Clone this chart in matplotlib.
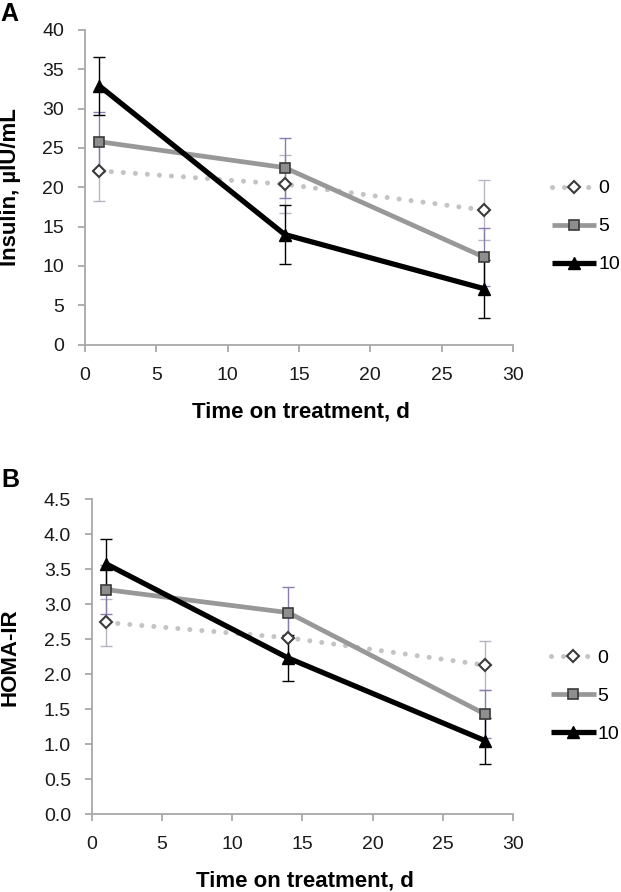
import numpy as np
import matplotlib
matplotlib.use("Agg")
import matplotlib.pyplot as plt

plt.rcParams['font.family'] = ['Liberation Sans', 'DejaVu Sans']

# time points (days) and dose groups
days = [1, 14, 28]
doses = ['0', '5', '10']

# panel A: insulin, uIU/mL (mean and error)
insulin_0 = [22.1, 20.4, 17.1]
insulin_0_err = [3.8, 3.7, 3.8]
insulin_5 = [25.8, 22.5, 11.1]
insulin_5_err = [3.8, 3.8, 3.7]
insulin_10 = [32.9, 14.0, 7.1]
insulin_10_err = [3.7, 3.7, 3.7]

# panel B: HOMA-IR (mean and error)
homa_0 = [2.74, 2.52, 2.13]
homa_0_err = [0.34, 0.34, 0.35]
homa_5 = [3.21, 2.88, 1.43]
homa_5_err = [0.35, 0.36, 0.34]
homa_10 = [3.58, 2.23, 1.05]
homa_10_err = [0.35, 0.33, 0.33]

axis_col = '#a8a8a8'

styles = [
    dict(color='#c4c4c4', lw=3.6, ls=(0, (0.01, 2.4)), dash_capstyle='round',
         marker='D', ms=6.5, mfc='white', mec='#3a3a3a', mew=1.5, ecol='#b8b4c4'),
    dict(color='#989898', lw=3.4, ls='-', dash_capstyle='butt',
         marker='s', ms=7, mfc='#8e8e8e', mec='#3a3a3a', mew=1.2, ecol='#8a7cae'),
    dict(color='black', lw=3.8, ls='-', dash_capstyle='butt',
         marker='^', ms=8.5, mfc='black', mec='black', mew=1, ecol='black'),
]


def draw_panel(ax, series, errs, ylim, ystep, yfmt, ylabel, ylabel_x):
    for vals, err, lab, st in zip(series, errs, doses, styles):
        ax.errorbar(days, vals, yerr=err, fmt='none', ecolor=st['ecol'],
                    elinewidth=1.0, capsize=4, capthick=1.0, zorder=2)
        ax.plot(days, vals, color=st['color'], lw=st['lw'], ls=st['ls'],
                dash_capstyle=st['dash_capstyle'], solid_capstyle='butt',
                marker=st['marker'], ms=st['ms'], mfc=st['mfc'],
                mec=st['mec'], mew=st['mew'], label=lab, zorder=3)
    ax.set_xlim(0, 30)
    ax.set_ylim(*ylim)
    ax.set_xticks(np.arange(0, 31, 5))
    ax.set_yticks(np.arange(ylim[0], ylim[1] + ystep / 2, ystep))
    ax.yaxis.set_major_formatter(plt.FormatStrFormatter(yfmt))
    for s in ['top', 'right']:
        ax.spines[s].set_visible(False)
    for s in ['left', 'bottom']:
        ax.spines[s].set_color(axis_col)
        ax.spines[s].set_linewidth(1.3)
    ax.tick_params(axis='both', colors=axis_col, labelcolor='#1a1a1a',
                   length=5, width=1.3, labelsize=14, direction='out')
    ax.tick_params(axis='x', pad=11)
    ax.tick_params(axis='y', pad=10)
    ax.set_xlabel('Time on treatment, d', fontsize=16, fontweight='bold',
                  va='center')
    ax.xaxis.set_label_coords(0.505, -0.214)
    ax.set_ylabel(ylabel, fontsize=16, fontweight='bold', va='center')
    ax.yaxis.set_label_coords(ylabel_x, 0.5)
    leg = ax.legend(loc='center left', bbox_to_anchor=(1.09, 0.375),
                    frameon=False, fontsize=14, handlelength=2.3,
                    handletextpad=0.1, labelspacing=1.05, borderpad=0,
                    borderaxespad=0, numpoints=1)
    return leg


fig = plt.figure(figsize=(6.21, 8.92), dpi=100)
axA = fig.add_axes([0.1369, 0.6136, 0.6892, 0.3528])
axB = fig.add_axes([0.1477, 0.0874, 0.6784, 0.3528])

draw_panel(axA, [insulin_0, insulin_5, insulin_10],
           [insulin_0_err, insulin_5_err, insulin_10_err],
           (0, 40), 5, '%d', 'Insulin, µIU/mL', (10 - 85) / 428)
draw_panel(axB, [homa_0, homa_5, homa_10],
           [homa_0_err, homa_5_err, homa_10_err],
           (0, 4.5), 0.5, '%.1f', 'HOMA-IR', (10 - 91.7) / 421.3)

fig.text(9 / 621, 1 - 14 / 892, 'A', fontsize=18, fontweight='bold',
         ha='center', va='center')
fig.text(10 / 621, 1 - 480 / 892, 'B', fontsize=18, fontweight='bold',
         ha='center', va='center')

fig.savefig('out.png', dpi=100)
